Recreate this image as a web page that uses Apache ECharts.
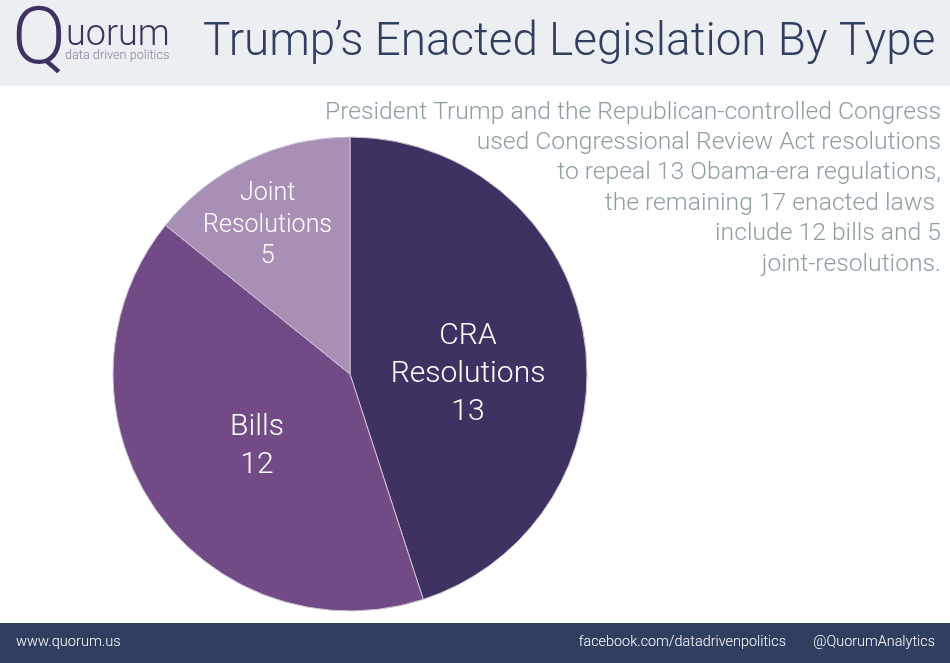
<!DOCTYPE html>
<html>
<head lang="en">
    <meta charset="UTF-8">
    <title>Trump's Enacted Legislation By Type</title>
    <style>
        html,body{margin:0;padding:0;background:#fff;}
    </style>
</head>
<body>
<div id="mychart" style="width: 950px;height: 663px;"></div>
<script src="https://cdn.jsdelivr.net/npm/echarts@6/dist/echarts.min.js"></script>
<script>
var categories = ['CRA\nResolutions', 'Bills', 'Joint\nResolutions'];
// the numbers printed on the slices
var printedValues = [13, 12, 5];
// the reference does not draw its slices to scale with the printed numbers,
// these are the shares (%)
var drawnShares = [45, 40.8, 14.2];
var sliceColors = ['#3f3161', '#714a86', '#a88fb5'];

var subtitleLines = [
    'President Trump and the Republican-controlled Congress',
    'used Congressional Review Act resolutions',
    'to repeal 13 Obama-era regulations,',
    'the remaining 17 enacted laws ',
    'include 12 bills and 5',
    'joint-resolutions.'
];

var font = 'Roboto';
var myChart = echarts.init(document.getElementById('mychart'));

function getPieData(){
    return categories.map(function(v, i){
        return {
            name: v,
            value: drawnShares[i],
            printed: printedValues[i],
            itemStyle: {color: sliceColors[i]}
        };
    });
}

// label offsets from the default inside position
var labelShift = [[-2, 20], [7, 4], [-30, -39]];

var graphics = [
    {type: 'rect', shape: {x: 0, y: 0, width: 950, height: 86}, style: {fill: '#ebeff1'}},
    {type: 'rect', shape: {x: 0, y: 623, width: 950, height: 40}, style: {fill: '#303f60'}},
    {type: 'text', x: 12, y: 3, style: {text: 'Q', font: '300 80px Roboto', fill: '#3f3161'}},
    {type: 'text', x: 66, y: 18, style: {text: 'uorum', font: '300 36px Roboto', fill: '#3f3161'}},
    {type: 'text', x: 65, y: 49, style: {text: 'data driven politics', font: '300 12.7px Roboto', fill: '#8d7ba0'}},
    {type: 'text', x: 203, y: 21, style: {text: 'Trump\u2019s Enacted Legislation By Type', font: '300 45.8px Roboto', fill: '#303f60'}},
    {type: 'text', x: 16, y: 635, style: {text: 'www.quorum.us', font: '300 14.6px Roboto', fill: '#fff'}},
    {type: 'text', x: 786, y: 635, style: {text: 'facebook.com/datadrivenpolitics', font: '300 14.4px Roboto', fill: '#fff', align: 'right'}},
    {type: 'text', x: 935, y: 635, style: {text: '@QuorumAnalytics', font: '300 14.4px Roboto', fill: '#fff', align: 'right'}}
];
subtitleLines.forEach(function(line, i){
    graphics.push({
        type: 'text', x: 941, y: 100 + i * 30.4,
        style: {text: line, font: '300 24.7px Roboto', fill: '#8f9f9c', align: 'right'}
    });
});

var option = {
    backgroundColor: '#fff',
    animation: false,
    graphic: graphics,
    series: [{
        type: 'pie',
        center: [350, 374],
        radius: [0, 237],
        startAngle: 90,
        clockwise: true,
        silent: true,
        data: getPieData(),
        itemStyle: {borderColor: '#cfc4d6', borderWidth: 1},
        label: {
            show: true,
            position: 'inside',
            fontFamily: font,
            fontWeight: 300,
            color: '#fff',
            fontSize: 30,
            lineHeight: 38,
            formatter: function(p){ return p.name + '\n' + p.data.printed; }
        },
        labelLine: {show: false},
        labelLayout: function(p){
            var s = labelShift[p.dataIndex];
            return {dx: s[0], dy: s[1]};
        }
    }]
};
// joint resolutions label is a bit smaller
option.series[0].data[2].label = {fontSize: 25, lineHeight: 31.5};

myChart.setOption(option);
</script>
</body>
</html>
